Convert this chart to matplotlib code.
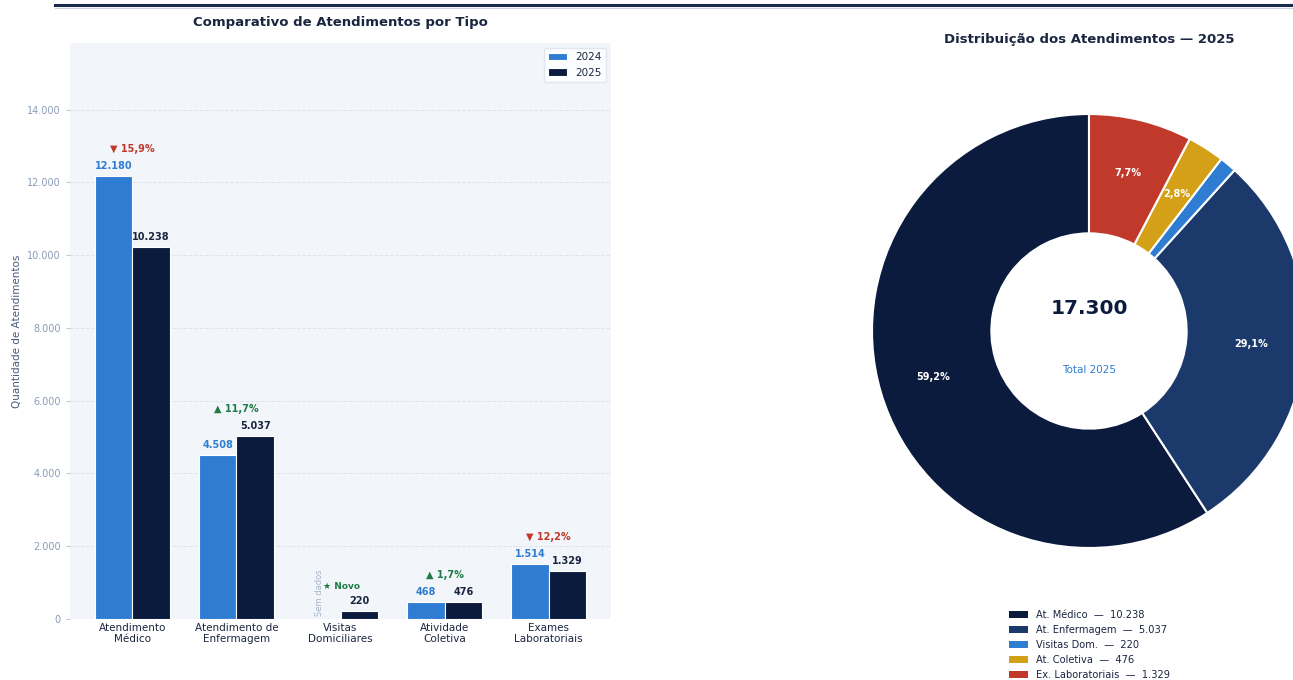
import numpy as np
import matplotlib
matplotlib.use("Agg")
import matplotlib.pyplot as plt
from matplotlib.patches import Patch
from matplotlib.lines import Line2D

# dados
categorias = ["Atendimento\nMédico", "Atendimento de\nEnfermagem", "Visitas\nDomiciliares",
              "Atividade\nColetiva", "Exames\nLaboratoriais"]
v2024 = [12180, 4508, None, 468, 1514]
v2025 = [10238, 5037, 220, 476, 1329]

pie_labels = ["At. Médico", "At. Enfermagem", "Visitas Dom.", "At. Coletiva", "Ex. Laboratoriais"]
pie_values = [10238, 5037, 220, 476, 1329]

NAVY = "#0b1b3d"
BLUE = "#2e7dd2"
RED = "#c0392b"
GREEN = "#1e7b45"
TXT = "#1a2540"
pie_colors = [NAVY, "#1b3a6b", BLUE, "#d4a017", RED]


def fmt(n):
    return f"{n:,.0f}".replace(",", ".")


fig = plt.figure(figsize=(12.93, 6.80), dpi=100)
fig.patch.set_facecolor("white")

# linha superior
fig.add_artist(Line2D([55 / 1293, 1], [1 - 5 / 680] * 2, color="#1a2a4f", lw=2.2))
fig.add_artist(Line2D([55 / 1293, 1], [1 - 8 / 680] * 2, color="#c9d3e3", lw=0.8))

# ---- barras ----
ax = fig.add_axes([70 / 1293, 61 / 680, 541 / 1293, 576 / 680])
ax.set_facecolor("#f2f6fb")
x = np.arange(len(categorias))
w = 0.36
ymax = max(v for v in v2024 if v is not None) * 1.3
ax.set_ylim(0, ymax)
ax.set_xlim(-0.6, 4.6)

for i in range(len(categorias)):
    a, b = v2024[i], v2025[i]
    if a is not None:
        ax.bar(x[i] - w / 2, a, w, color=BLUE, edgecolor="white", lw=0.8,
               label="2024" if i == 0 else None, zorder=3)
        ax.text(x[i] - w / 2, a + ymax * 0.008, fmt(a), ha="center", va="bottom",
                fontsize=7, fontweight="bold", color=BLUE)
    ax.bar(x[i] + w / 2, b, w, color=NAVY, edgecolor="white", lw=0.8,
           label="2025" if i == 0 else None, zorder=3)
    ax.text(x[i] + w / 2, b + ymax * 0.008, fmt(b), ha="center", va="bottom",
            fontsize=7, fontweight="bold", color=TXT)
    if a is None:
        ax.text(x[i] - w / 2 - 0.02, ymax * 0.005, "Sem dados", rotation=90, ha="center",
                va="bottom", fontsize=6, color="#a7b4c8")
        ax.text(x[i] - 0.17, b + ymax * 0.042, "★ Novo", ha="left", va="center",
                fontsize=6.5, fontweight="bold", color=GREEN)
    else:
        var = (b - a) / a * 100
        sym, col = ("▲", GREEN) if var >= 0 else ("▼", RED)
        txt = sym + " " + f"{abs(var):.1f}".replace(".", ",") + "%"
        ax.text(x[i], max(a, b) + ymax * 0.047, txt, ha="center", va="center",
                fontsize=7, fontweight="bold", color=col)

ax.set_xticks(x)
ax.set_xticklabels(categorias, fontsize=7.5, color=TXT, linespacing=1.1)
yt = np.arange(0, 14001, 2000)
ax.set_yticks(yt)
ax.set_yticklabels([fmt(v) for v in yt], fontsize=7, color="#8a9bb8")
ax.tick_params(axis="both", length=3, color="#c0c9d8")
ax.tick_params(axis="x", length=0, pad=3)
ax.grid(axis="y", color="#dde4ee", ls="--", lw=0.7, zorder=0)
for s in ax.spines.values():
    s.set_visible(False)
ax.set_ylabel("Quantidade de Atendimentos", fontsize=7.5, color="#4a5a7a")
ax.set_title("Comparativo de Atendimentos por Tipo", fontsize=9.5, fontweight="bold",
             color=TXT, pad=12)
leg = ax.legend(loc="upper right", fontsize=7.5, frameon=True, handlelength=1.8)
leg.get_frame().set_edgecolor("#d8e2ef")
leg.get_frame().set_facecolor("white")
for t in leg.get_texts():
    t.set_color(TXT)

# ---- rosca ----
R = 217
cx, cy = 1089, 680 - 331
ax2 = fig.add_axes([(cx - R) / 1293, (cy - R) / 680, 2 * R / 1293, 2 * R / 680])
total = sum(pie_values)


def pct(p):
    return f"{p:.1f}".replace(".", ",") + "%" if p > 2 else ""


wedges, _, autot = ax2.pie(pie_values, colors=pie_colors, startangle=90, radius=1,
                           autopct=pct, pctdistance=0.75,
                           wedgeprops=dict(width=0.55, edgecolor="white", linewidth=1.5),
                           textprops=dict(color="white", fontsize=7, fontweight="bold"))
ax2.set_xlim(-1, 1)
ax2.set_ylim(-1, 1)
ax2.text(0, 0.105, fmt(total), ha="center", va="center", fontsize=14.5, fontweight="bold", color=NAVY)
ax2.text(0, -0.18, "Total 2025", ha="center", va="center", fontsize=7.5, color=BLUE)

fig.text(cx / 1293, 1 - 40 / 680, "Distribuição dos Atendimentos — 2025", ha="center",
         va="center", fontsize=9.5, fontweight="bold", color=TXT)

handles = [Patch(facecolor=c) for c in pie_colors]
labs = [f"{l}  —  {fmt(v)}" for l, v in zip(pie_labels, pie_values)]
fl = fig.legend(handles, labs, loc="upper left", bbox_to_anchor=(1005 / 1293, 1 - 606 / 680),
                frameon=False, fontsize=7.1, handlelength=1.9, handleheight=0.7,
                labelspacing=0.5, borderaxespad=0)
for t in fl.get_texts():
    t.set_color(TXT)

fig.savefig("out.png", dpi=100)
